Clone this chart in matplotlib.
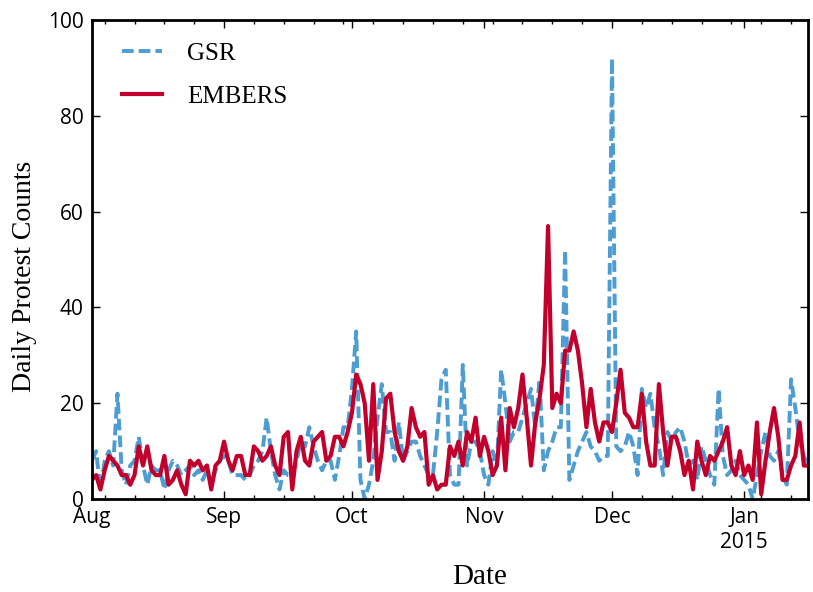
import matplotlib
matplotlib.use("Agg")
import matplotlib.pyplot as plt
import matplotlib.dates as mdates
from matplotlib.ticker import FuncFormatter
import pandas as pd

dates = pd.date_range("2014-08-01", "2015-01-16", freq="D")

gsr = [8,
       10, 2, 8, 10, 7, 22, 6, 3, 7, 8, 13, 7, 3, 7, 6, 6, 2, 6, 8, 7, 5, 6, 7, 5, 6, 4, 6, 3,
       6, 8, 9, 8, 5, 5, 5, 4, 5, 7, 8, 10, 17, 10, 5, 2, 6, 5, 5, 8, 12, 11, 15, 11, 8, 6, 8, 8, 4,
       9, 15, 15, 23, 35, 4, 0, 3, 8, 17, 24, 14, 14, 8, 16, 8, 10, 12, 12, 9, 7, 5, 5, 14, 25, 27, 5, 3, 3,
       28, 7, 12, 12, 10, 5, 3, 10, 7, 27, 20, 12, 14, 14, 17, 20, 23, 15, 25, 6, 10, 12, 15, 15, 52, 4, 7, 10, 12,
       14, 11, 10, 8, 9, 9, 92, 11, 10, 11, 14, 11, 5, 23, 19, 22, 15, 11, 5, 14, 12, 14, 15, 12, 7, 8, 4, 11, 8, 5,
       3, 23, 9, 5, 6, 8, 5, 4, 3, 0, 5, 10, 14, 9, 8, 10, 5, 3, 25, 19, 12, 9, 7]

embers = [4,
          5, 2, 6, 9, 8, 7, 5, 5, 3, 5, 11, 7, 11, 6, 5, 5, 9, 3, 4, 6, 3, 1, 8, 7, 8, 6, 7, 2,
          7, 8, 12, 8, 6, 9, 9, 5, 5, 11, 10, 8, 9, 11, 7, 5, 13, 14, 2, 10, 13, 8, 7, 12, 13, 14, 8, 9, 13,
          13, 11, 14, 18, 26, 24, 20, 8, 24, 4, 10, 21, 22, 14, 10, 8, 11, 19, 15, 13, 14, 3, 5, 2, 3, 3, 11, 9, 12,
          7, 14, 12, 17, 9, 13, 10, 5, 7, 17, 6, 19, 15, 19, 26, 17, 7, 16, 21, 28, 57, 19, 22, 20, 31, 31, 35, 31, 24,
          15, 23, 16, 12, 16, 16, 14, 20, 27, 18, 17, 15, 15, 22, 12, 7, 7, 24, 14, 7, 13, 13, 10, 5, 8, 2, 12, 8, 5, 9,
          8, 10, 12, 15, 7, 5, 10, 5, 7, 4, 16, 1, 8, 14, 19, 13, 4, 4, 7, 9, 16, 7, 7]

y_ticks = [0, 20, 40, 60, 80, 100]

fig = plt.figure(figsize=(8.13, 5.92), dpi=100)
ax = fig.add_axes([0.113, 0.157, 0.881, 0.809])

ax.plot(dates, gsr, linestyle=(0, (3.0, 1.3)), color="#4d9dd2", linewidth=2.8, label="GSR")
ax.plot(dates, embers, linestyle="-", color="#c1002b", linewidth=3.0, label="EMBERS")

ax.set_xlim(dates[0], dates[-1])
ax.set_ylim(0, 100)
ax.set_yticks(y_ticks)

ax.xaxis.set_major_locator(mdates.MonthLocator())
ax.xaxis.set_minor_locator(mdates.WeekdayLocator(byweekday=mdates.MO))

def fmt(x, pos):
    d = mdates.num2date(x)
    s = d.strftime("%b")
    if d.month == 1:
        s += "\n%d" % d.year
    return s

ax.xaxis.set_major_formatter(FuncFormatter(fmt))

tick_font = "Open Sans"
ax.tick_params(axis="both", which="major", direction="in", length=6, width=1,
               top=True, right=True, labelsize=15, pad=6)
ax.tick_params(axis="both", which="minor", direction="in", length=3, width=1,
               top=True, right=True)
for lab in ax.get_xticklabels() + ax.get_yticklabels():
    lab.set_fontfamily(tick_font)
for sp in ax.spines.values():
    sp.set_linewidth(2)

ax.set_xlabel("Date", fontfamily="Liberation Serif", fontsize=21)
ax.set_ylabel("Daily Protest Counts", fontfamily="Liberation Serif", fontsize=20)
ax.xaxis.set_label_coords(0.542, -0.135)
ax.yaxis.set_label_coords(-0.077, 0.466)

leg = ax.legend(loc="upper left", bbox_to_anchor=(0.028, 0.975), borderaxespad=0,
                frameon=False, prop={"family": "Liberation Serif", "size": 18},
                handlelength=1.6, handletextpad=1.0, labelspacing=0.84)

fig.savefig("out.png", dpi=100)
